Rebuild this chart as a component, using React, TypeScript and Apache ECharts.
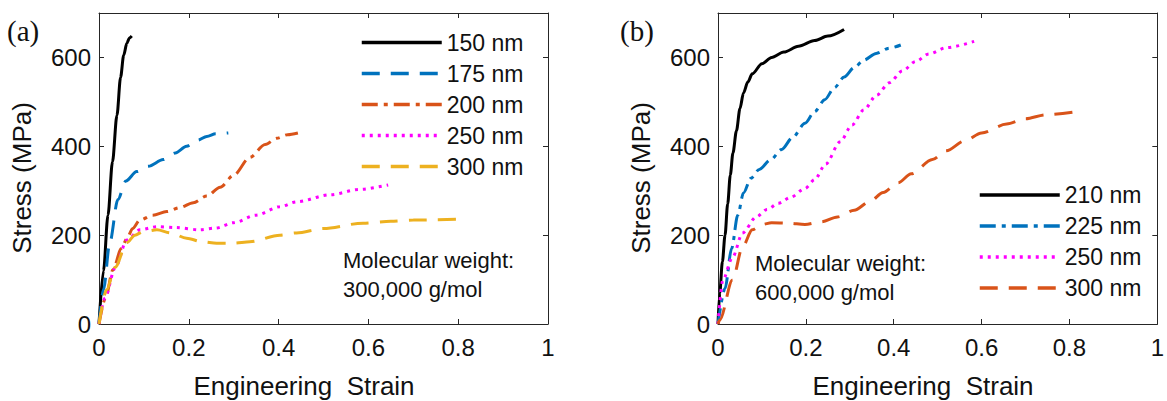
import React, { useEffect, useRef } from "react";
import * as echarts from "echarts";

// ---------- data (engineering strain, stress MPa) ----------
// Panel (a): molecular weight 300,000 g/mol
const a150: number[][] = [[0, 0], [0.01, 120], [0.02, 245], [0.03, 365], [0.04, 470], [0.048, 555], [0.055, 605], [0.062, 632], [0.068, 644], [0.073, 648]];
const a175: number[][] = [[0, 0], [0.01, 77], [0.024, 183], [0.042, 280], [0.06, 322], [0.084, 343], [0.11, 355], [0.143, 370], [0.17, 385], [0.195, 400], [0.22, 414], [0.24, 422], [0.26, 428], [0.288, 430]];
const a200: number[][] = [[0, 0], [0.015, 60], [0.031, 122], [0.05, 170], [0.062, 192], [0.075, 215], [0.091, 234], [0.12, 245], [0.151, 253], [0.18, 262], [0.21, 273], [0.24, 288], [0.27, 308], [0.3, 335], [0.336, 375], [0.37, 404], [0.396, 418], [0.42, 426], [0.443, 430]];
const a250: number[][] = [[0, 0], [0.013, 58], [0.036, 126], [0.062, 189], [0.091, 212], [0.129, 219], [0.17, 217], [0.225, 212], [0.26, 216], [0.3, 228], [0.35, 245], [0.403, 264], [0.44, 275], [0.515, 291], [0.58, 303], [0.644, 313]];
const a300: number[][] = [[0, 0], [0.017, 77], [0.036, 128], [0.062, 183], [0.08, 200], [0.098, 208], [0.129, 212], [0.16, 205], [0.195, 193], [0.23, 185], [0.262, 182], [0.3, 182], [0.336, 185], [0.403, 200], [0.44, 205], [0.5, 215], [0.588, 227], [0.65, 231], [0.7, 234], [0.8, 236]];

// Panel (b): molecular weight 600,000 g/mol
const b210: number[][] = [[0, 0], [0.004, 70], [0.01, 140], [0.016, 200], [0.022, 270], [0.028, 335], [0.034, 385], [0.042, 435], [0.05, 485], [0.058, 520], [0.068, 545], [0.078, 563], [0.1, 586], [0.122, 600], [0.15, 612], [0.183, 625], [0.22, 638], [0.25, 648], [0.287, 663]];
const b225: number[][] = [[0, 0], [0.016, 80], [0.031, 170], [0.045, 245], [0.058, 295], [0.075, 328], [0.094, 348], [0.12, 370], [0.145, 393], [0.17, 420], [0.198, 452], [0.22, 478], [0.243, 505], [0.265, 532], [0.287, 556], [0.31, 577], [0.332, 594], [0.36, 609], [0.39, 621], [0.416, 628]];
const b250: number[][] = [[0, 0], [0.011, 99], [0.033, 150], [0.056, 205], [0.087, 241], [0.112, 258], [0.138, 272], [0.165, 285], [0.198, 305], [0.22, 325], [0.245, 360], [0.278, 410], [0.305, 448], [0.332, 482], [0.361, 515], [0.39, 543], [0.42, 570], [0.45, 591], [0.48, 608], [0.52, 622], [0.583, 636]];
const b300: number[][] = [[0, 0], [0.004, 9], [0.033, 99], [0.056, 174], [0.078, 212], [0.1, 224], [0.122, 228], [0.16, 227], [0.198, 224], [0.235, 230], [0.272, 241], [0.31, 256], [0.345, 275], [0.376, 296], [0.41, 318], [0.44, 338], [0.488, 370], [0.52, 390], [0.561, 412], [0.6, 430], [0.657, 450], [0.7, 462], [0.746, 471], [0.822, 479]];

const legendA = ["150 nm", "175 nm", "200 nm", "250 nm", "300 nm"];
const legendB = ["210 nm", "225 nm", "250 nm", "300 nm"];
const xTicks = { min: 0, max: 1, interval: 0.2 };
const yTicks = { min: 0, max: 700, interval: 200 };

const FONT = "Liberation Sans, Arial, sans-serif";
const SERIF = "Liberation Serif, Times New Roman, serif";
const AX = "#262626";

const C_BLACK = "#000000";
const C_BLUE = "#0072BD";
const C_ORANGE = "#D95319";
const C_MAGENTA = "#FF00FF";
const C_YELLOW = "#EDB120";

const SOLID = "solid";
const DASH = [18, 11];
const DASHDOT = [16, 6, 4, 6];
const DOT = [3, 5];

function App() {
  const ref = useRef<HTMLDivElement>(null);
  useEffect(() => {
    if (!ref.current) return;
    const chart = echarts.init(ref.current, null, { renderer: "svg" });

    const xAxisBase = (grid: number, pos: "bottom" | "top") => ({
      type: "value",
      gridIndex: grid,
      position: pos,
      min: xTicks.min,
      max: xTicks.max,
      interval: xTicks.interval,
      axisLine: { show: true, onZero: false, lineStyle: { color: AX, width: 1 } },
      axisTick: { show: true, inside: true, length: 5, lineStyle: { color: AX, width: 1 } },
      axisLabel: {
        show: pos === "bottom",
        fontSize: 24,
        fontFamily: FONT,
        color: "#111",
        margin: 11,
      },
      splitLine: { show: false },
    });
    const yAxisBase = (grid: number, pos: "left" | "right") => ({
      type: "value",
      gridIndex: grid,
      position: pos,
      min: yTicks.min,
      max: yTicks.max,
      interval: yTicks.interval,
      axisLine: { show: true, onZero: false, lineStyle: { color: AX, width: 1 } },
      axisTick: { show: true, inside: true, length: 5, lineStyle: { color: AX, width: 1 } },
      axisLabel: {
        show: pos === "left",
        showMaxLabel: false,
        fontSize: 24,
        fontFamily: FONT,
        color: "#111",
        margin: 8,
      },
      splitLine: { show: false },
    });

    const mk = (name: string, data: number[][], color: string, type: any, axis: number) => ({
      name,
      type: "line",
      data,
      xAxisIndex: axis,
      yAxisIndex: axis,
      symbol: "none",
      showSymbol: false,
      smooth: 0.3,
      smoothMonotone: "x",
      clip: false,
      lineStyle: { color, width: 3, type, cap: "butt" },
      itemStyle: { color },
      emphasis: { disabled: true },
    });

    const aStyles = [
      [a150, C_BLACK, SOLID],
      [a175, C_BLUE, DASH],
      [a200, C_ORANGE, DASHDOT],
      [a250, C_MAGENTA, DOT],
      [a300, C_YELLOW, DASH],
    ];
    const bStyles = [
      [b210, C_BLACK, SOLID],
      [b225, C_BLUE, DASHDOT],
      [b250, C_MAGENTA, DOT],
      [b300, C_ORANGE, DASH],
    ];

    const series: any[] = [];
    legendA.forEach((n, i) => series.push(mk("a:" + n, aStyles[i][0] as number[][], aStyles[i][1] as string, aStyles[i][2], 0)));
    legendB.forEach((n, i) => series.push(mk("b:" + n, bStyles[i][0] as number[][], bStyles[i][1] as string, bStyles[i][2], 2)));

    const legendCommon = {
      orient: "vertical",
      itemWidth: 80,
      itemHeight: 14,
      itemGap: 8,
      padding: 0,
      selectedMode: false,
      itemStyle: { color: "rgba(0,0,0,0)", borderWidth: 0, opacity: 0 },
      lineStyle: { width: 3.5 },
      formatter: (name: string) => name.replace(/^[ab]:/, ""),
      textStyle: { fontSize: 23, fontFamily: FONT, color: "#111", lineHeight: 23 },
    };

    const txt = (text: string, x: number, y: number, size: number, extra: any = {}) => ({
      type: "text",
      x,
      y,
      silent: true,
      style: {
        text,
        fontSize: size,
        fontFamily: FONT,
        fill: "#111",
        textAlign: "left",
        textVerticalAlign: "middle",
        ...extra,
      },
    });

    chart.setOption({
      animation: false,
      backgroundColor: "#ffffff",
      grid: [
        { left: 99, top: 13, width: 449, height: 311 },
        { left: 718, top: 13, width: 449, height: 311 },
      ],
      xAxis: [xAxisBase(0, "bottom"), xAxisBase(0, "top"), xAxisBase(1, "bottom"), xAxisBase(1, "top")],
      yAxis: [yAxisBase(0, "left"), yAxisBase(0, "right"), yAxisBase(1, "left"), yAxisBase(1, "right")],
      legend: [
        { ...legendCommon, data: legendA.map((n) => "a:" + n), left: 360, top: 31 },
        { ...legendCommon, data: legendB.map((n) => "b:" + n), left: 978, top: 183.5 },
      ],
      series,
      graphic: [
        txt("(a)", 7, 31, 29, { fontFamily: SERIF }),
        txt("(b)", 620, 31, 29, { fontFamily: SERIF }),
        txt("Engineering  Strain", 304, 386, 26, { textAlign: "center" }),
        txt("Engineering  Strain", 923, 386, 26, { textAlign: "center" }),
        {
          type: "text",
          x: 22,
          y: 178,
          rotation: Math.PI / 2,
          silent: true,
          style: { text: "Stress (MPa)", fontSize: 26, fontFamily: FONT, fill: "#111", textAlign: "center", textVerticalAlign: "middle" },
        },
        {
          type: "text",
          x: 641,
          y: 178,
          rotation: Math.PI / 2,
          silent: true,
          style: { text: "Stress (MPa)", fontSize: 26, fontFamily: FONT, fill: "#111", textAlign: "center", textVerticalAlign: "middle" },
        },
        txt("Molecular weight:", 343, 260, 22),
        txt("300,000 g/mol", 343, 289, 22),
        txt("Molecular weight:", 755, 263, 22),
        txt("600,000 g/mol", 755, 292, 22),
      ],
    });
    return () => chart.dispose();
  }, []);
  return <div ref={ref} style={{ position: "absolute", left: 0, top: 0, width: 1167, height: 401 }} />;
}

export default App;
